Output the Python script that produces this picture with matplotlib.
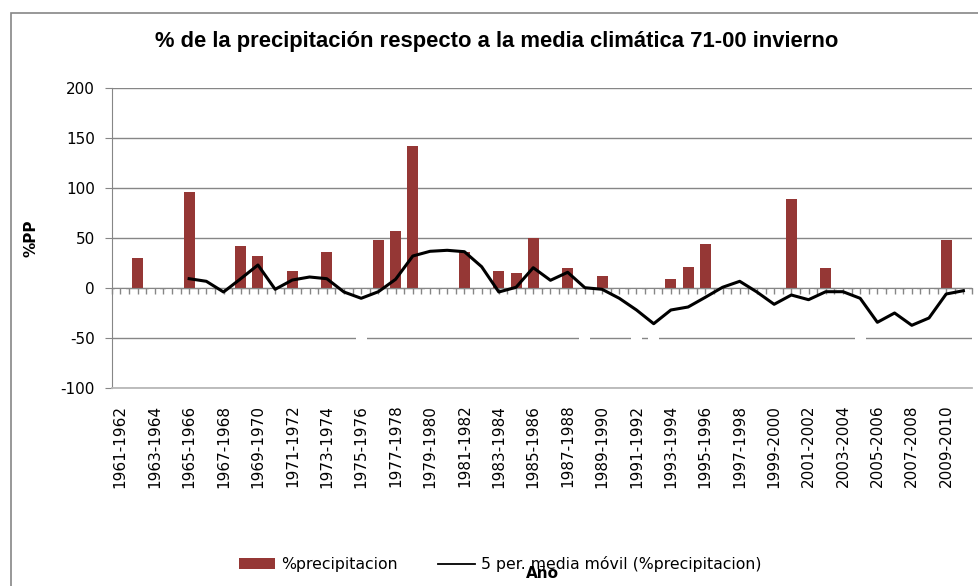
import numpy as np
import matplotlib
matplotlib.use("Agg")
import matplotlib.pyplot as plt
from matplotlib.patches import Rectangle

plt.rcParams["axes.unicode_minus"] = False

# temporadas de invierno 1961-1962 ... 2010-2011
anios_inicio = list(range(1961, 2011))
temporadas = [f"{a}-{a + 1}" for a in anios_inicio]

# % de precipitación respecto a la media 71-00 (las barras negativas salen en blanco)
pct_precip = [-18, 30, -24, -36, 96, -31, -23, 42, 32, -25,
              17, -8, 36, -32, -55, 48, 57, 142, -8, -37,
              36, -27, 17, 15, 50, -16, 20, -62, 12, -4,
              -68, -52, 9, 21, 44, -20, -20, -45, -40, 89,
              -42, 20, -45, -73, -33, -3, -32, -8, 48, -17]

# media móvil de 5 periodos
media_movil = [np.nan, np.nan, np.nan, np.nan,
               9.3, 6.7, -4, 9.3, 23, -1.3, 8, 11, 9.3, -4,
               -10.3, -3.7, 8.7, 32, 36.7, 37.7, 36.3, 21.3, -4, 0.7,
               20.3, 7.7, 15.7, 0.3, -1.3, -10.3, -22, -35.7, -22, -19,
               -9.3, 0.7, 6.7, -4, -16.3, -7, -11.7, -3.7, -3.7, -10.3,
               -34.3, -25, -37.3, -30, -6, -2.7]

gris = "#868686"
rojo = "#953735"

fig = plt.figure(figsize=(9.79, 5.86), dpi=100)
ax = fig.add_axes([111.7 / 979, 1 - 388 / 586, (972 - 111.7) / 979, 300 / 586])

x = np.arange(len(temporadas))
colores = [rojo if v >= 0 else "white" for v in pct_precip]
barras = ax.bar(x, pct_precip, width=0.64, color=colores, zorder=2)
linea, = ax.plot(x, media_movil, color="black", lw=2.2, zorder=4)

ax.set_xlim(-0.5, len(temporadas) - 0.5)
ax.set_ylim(-100, 200)
ax.set_yticks(range(-100, 201, 50))
ax.yaxis.grid(True, color=gris, lw=1.0, zorder=0)
ax.set_axisbelow(True)

for s in ["top", "right"]:
    ax.spines[s].set_visible(False)
ax.spines["left"].set_color(gris)
ax.spines["bottom"].set_color("#b8b8b8")
ax.spines["bottom"].set_linewidth(1.3)

ax.tick_params(axis="y", direction="out", length=5, color=gris, pad=7, labelsize=11)
ax.set_xticks(x[::2])
ax.set_xticklabels(temporadas[::2], rotation=90, fontsize=11)
ax.tick_params(axis="x", length=0, pad=12)

# eje horizontal en 0 con marcas pequeñas
eje0 = ax.secondary_xaxis(0, transform=ax.transData)
eje0.set_xticks(np.arange(-0.5, len(temporadas), 0.5))
eje0.set_xticklabels([])
eje0.tick_params(direction="out", length=4.5, color=gris, width=1)
eje0.spines["bottom"].set_color(gris)
eje0.set_zorder(3)

ax.set_ylabel("%PP", fontweight="bold", fontsize=11)
ax.yaxis.set_label_coords((38 - 111.7) / 860.3, 0.5)

fig.text(497 / 979, 1 - 41 / 586,
         "% de la precipitación respecto a la media climática 71-00 invierno",
         family="Liberation Sans", fontweight="bold", fontsize=15.8,
         ha="center", va="center")
fig.text(542 / 979, 1 - 573 / 586, "Año", fontweight="bold", fontsize=11,
         ha="center", va="center", zorder=5)

leg = fig.legend([barras, linea],
                 ["%precipitacion", "5 per. media móvil (%precipitacion)"],
                 loc="center", bbox_to_anchor=(500 / 979, 1 - 564 / 586),
                 ncol=2, frameon=False, fontsize=11.3, handlelength=2.3,
                 handleheight=0.7, handletextpad=0.4, columnspacing=2.6)
leg.legend_handles[0].set_facecolor(rojo)
leg.legend_handles[1].set_linewidth(1.3)

# borde del área del gráfico
fig.patches.append(Rectangle((11 / 979, -0.2), 1.2, 1.2 - 13 / 586,
                             transform=fig.transFigure, fill=False,
                             edgecolor=gris, lw=1.2))

fig.savefig("out.png", dpi=100)
